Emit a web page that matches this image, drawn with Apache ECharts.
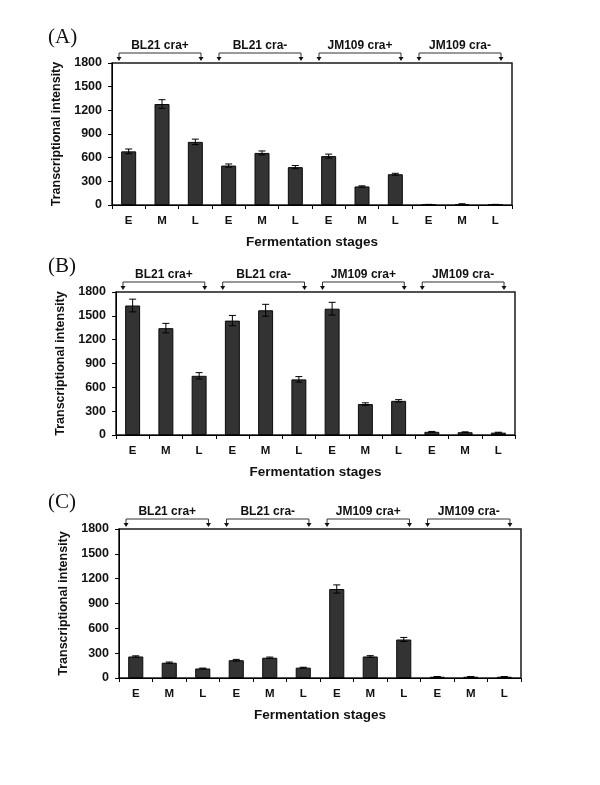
<!DOCTYPE html>
<html>
<head>
<meta charset="utf-8">
<script src="https://cdn.jsdelivr.net/npm/echarts@6/dist/echarts.min.js"></script>
<style>html,body{margin:0;padding:0;background:#fff;}#c{width:600px;height:785px;}</style>
</head>
<body>
<div id="c"></div>
<script>
const stages = ['E','M','L','E','M','L','E','M','L','E','M','L'];
const groups = ['BL21 cra+','BL21 cra-','JM109 cra+','JM109 cra-'];
const yTicks = [0,300,600,900,1200,1500,1800];
const panelLabels = ['(A)','(B)','(C)'];

const valuesA = [680,1280,800,500,660,480,620,235,390,6,12,6];
const errorsA = [30,55,35,20,25,20,25,8,12,2,3,2];
const valuesB = [1630,1345,745,1440,1570,700,1590,390,430,40,35,30];
const errorsB = [80,60,40,65,75,35,80,15,15,5,5,5];
const valuesC = [260,185,115,215,245,125,1075,260,465,15,15,15];
const errorsC = [8,8,5,10,8,5,50,10,25,3,3,3];

const panels = [
  {vals: valuesA, errs: errorsA, grid:{left:112, right:88, top:63, height:142}},
  {vals: valuesB, errs: errorsB, grid:{left:116, right:85, top:292, height:143}},
  {vals: valuesC, errs: errorsC, grid:{left:119, right:79, top:529, height:149}}
];

const FONT = '"Liberation Sans", Arial, sans-serif';

const grids = [], xAxes = [], yAxes = [], series = [], graphics = [];
panels.forEach((p, k) => {
  grids.push(Object.assign({show:true, borderColor:'#1a1a1a', borderWidth:1.5, backgroundColor:'transparent'}, p.grid));
  xAxes.push({
    type:'category', gridIndex:k, data:stages,
    axisLine:{lineStyle:{color:'#000', width:1}},
    axisTick:{show:true, alignWithLabel:false, length:4, lineStyle:{color:'#000'}},
    axisLabel:{color:'#111', fontFamily:FONT, fontWeight:'bold', fontSize:11.5, margin:10},
    name:'Fermentation stages', nameLocation:'middle', nameGap:30,
    nameTextStyle:{color:'#111', fontFamily:FONT, fontWeight:'bold', fontSize:13.5}
  });
  yAxes.push({
    type:'value', gridIndex:k, min:yTicks[0], max:yTicks[yTicks.length-1], interval:yTicks[1]-yTicks[0],
    splitLine:{show:false},
    axisLine:{show:true, lineStyle:{color:'#000', width:1}},
    axisTick:{show:true, length:4, lineStyle:{color:'#000'}},
    axisLabel:{color:'#111', fontFamily:FONT, fontWeight:'bold', fontSize:12.5, margin:10,
      formatter:(v)=>String(v)},
    name:'Transcriptional intensity', nameLocation:'middle', nameGap:44,
    nameTextStyle:{color:'#111', fontFamily:FONT, fontWeight:'bold', fontSize:12.5}
  });
  series.push({
    type:'bar', xAxisIndex:k, yAxisIndex:k, data:p.vals, barWidth:'45%',
    itemStyle:{color:'#333333', borderColor:'#0a0a0a', borderWidth:1}, silent:true
  });
  series.push({
    type:'custom', xAxisIndex:k, yAxisIndex:k, z:5, silent:true,
    data:p.vals.map((v,i)=>[i, v, p.errs[i]]),
    renderItem:function(params, api){
      const i = api.value(0), v = api.value(1), e = api.value(2);
      const top = api.coord([i, v+e]);
      const bot = api.coord([i, v-e]);
      const hw = 3.5;
      return {type:'group', children:[
        {type:'line', shape:{x1:top[0], y1:top[1], x2:bot[0], y2:bot[1]}, style:{stroke:'#000', lineWidth:1}},
        {type:'line', shape:{x1:top[0]-hw, y1:top[1], x2:top[0]+hw, y2:top[1]}, style:{stroke:'#000', lineWidth:1}},
        {type:'line', shape:{x1:bot[0]-hw, y1:bot[1], x2:bot[0]+hw, y2:bot[1]}, style:{stroke:'#000', lineWidth:1}}
      ]};
    }
  });
  series.push({
    type:'custom', xAxisIndex:k, yAxisIndex:k, z:6, silent:true, clip:false,
    data:groups.map((g,j)=>[j*3, yTicks[yTicks.length-1], j]),
    renderItem:function(params, api){
      const idx = api.value(2);
      const c = api.coord([api.value(0), api.value(1)]);
      const bw = api.size([1,0])[0];
      const x0 = c[0] - 0.29*bw, x1 = c[0] + 2.17*bw;
      const yb = c[1] - 10, ya = c[1] - 3;
      const arrow = (x)=>({type:'polygon', shape:{points:[[x-2.5,ya-3],[x+2.5,ya-3],[x,ya+1]]}, style:{fill:'#111'}});
      return {type:'group', children:[
        {type:'polyline', shape:{points:[[x0,ya-2],[x0,yb],[x1,yb],[x1,ya-2]]}, style:{stroke:'#333', lineWidth:1, fill:null}},
        arrow(x0), arrow(x1),
        {type:'text', style:{text:groups[idx], x:(x0+x1)/2, y:yb-7, align:'center', verticalAlign:'middle',
          font:'bold 12px ' + FONT, fill:'#111'}}
      ]};
    }
  });
});

const labelTops = [27, 256, 492];
panelLabels.forEach((t,k)=>{
  graphics.push({type:'text', left:48, top:labelTops[k],
    style:{text:t, font:'21px "Liberation Serif", "Times New Roman", serif', fill:'#111'}});
});

const chart = echarts.init(document.getElementById('c'), null, {renderer:'canvas'});
chart.setOption({
  animation:false,
  backgroundColor:'#fff',
  grid:grids, xAxis:xAxes, yAxis:yAxes, series:series, graphic:graphics
});
</script>
</body>
</html>
